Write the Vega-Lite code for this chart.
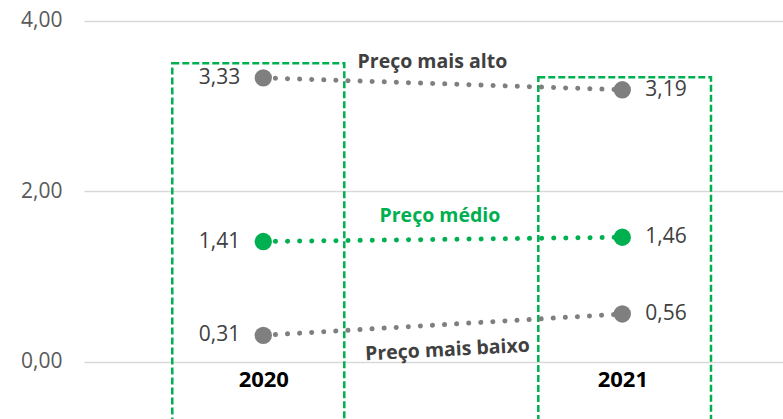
{
  "$schema": "https://vega.github.io/schema/vega-lite/v6.json",
  "width": 699,
  "height": 419,
  "autosize": {"type": "none"},
  "padding": {"left": 84, "top": 0, "right": 0, "bottom": 0},
  "background": "white",
  "config": {
    "view": {"stroke": null},
    "locale": {"number": {"decimal": ",", "thousands": ".", "grouping": [3], "currency": ["R$", ""]}},
    "font": "Open Sans"
  },
  "datasets": {
    "prices": [
      {"year": 2020, "series": "Preço mais alto", "value": 3.33},
      {"year": 2021, "series": "Preço mais alto", "value": 3.19},
      {"year": 2020, "series": "Preço médio", "value": 1.41},
      {"year": 2021, "series": "Preço médio", "value": 1.46},
      {"year": 2020, "series": "Preço mais baixo", "value": 0.31},
      {"year": 2021, "series": "Preço mais baixo", "value": 0.56}
    ],
    "boxes": [
      {"year": 2020, "x1": 2019.7465, "x2": 2020.2256, "top": 3.5, "bottom": -1},
      {"year": 2021, "x1": 2020.766, "x2": 2021.247, "top": 3.336, "bottom": -1}
    ],
    "labels": [
      {"series": "Preço mais alto", "x": 2020.471, "y": 3.516},
      {"series": "Preço médio", "x": 2020.492, "y": 1.709}
    ],
    "lowlabel": [
      {"series": "Preço mais baixo", "x": 2020.513, "y": 0.137}
    ]
  },
  "layer": [
    {
      "data": {"name": "boxes"},
      "mark": {"type": "rect", "fill": null, "fillOpacity": 0, "stroke": "#00b050", "strokeWidth": 2.5, "strokeDash": [7, 3], "clip": true},
      "encoding": {
        "x": {"field": "x1", "type": "quantitative", "scale": {"domain": [2019.5006, 2021.4476], "nice": false, "zero": false},
          "axis": {"values": [2020, 2021], "format": "d", "title": null, "domain": false, "ticks": false, "grid": false, "offset": -58, "labelPadding": 8, "labelFontSize": 22, "labelFontWeight": "bold", "labelColor": "#000000", "labelFont": "Open Sans"}},
        "x2": {"field": "x2"},
        "y": {"field": "top", "type": "quantitative", "scale": {"domain": [-0.672, 4.243], "nice": false, "zero": false},
          "axis": {"values": [0, 2, 4], "format": ".2f", "title": null, "domain": false, "ticks": false, "grid": true, "gridColor": "#d9d9d9", "gridWidth": 1.5, "labelPadding": 22, "labelFontSize": 21, "labelColor": "#595959", "labelFont": "Open Sans"}},
        "y2": {"field": "bottom"}
      }
    },
    {
      "data": {"name": "prices"},
      "mark": {"type": "line", "strokeWidth": 5, "strokeDash": [0.1, 12], "strokeCap": "round"},
      "encoding": {
        "x": {"field": "year", "type": "quantitative"},
        "y": {"field": "value", "type": "quantitative"},
        "detail": {"field": "series"},
        "color": {"field": "series", "type": "nominal", "scale": {"domain": ["Preço mais alto", "Preço médio", "Preço mais baixo"], "range": ["#7f7f7f", "#00b050", "#7f7f7f"]}, "legend": null}
      }
    },
    {
      "data": {"name": "prices"},
      "mark": {"type": "circle", "size": 300, "opacity": 1},
      "encoding": {
        "x": {"field": "year", "type": "quantitative"},
        "y": {"field": "value", "type": "quantitative"},
        "color": {"field": "series", "type": "nominal", "legend": null}
      }
    },
    {
      "data": {"name": "prices"},
      "transform": [{"filter": "datum.year == 2020"}],
      "mark": {"type": "text", "align": "right", "baseline": "middle", "dx": -23, "fontSize": 21, "color": "#404040"},
      "encoding": {
        "x": {"field": "year", "type": "quantitative"},
        "y": {"field": "value", "type": "quantitative"},
        "text": {"field": "value", "type": "quantitative", "format": ".2f"}
      }
    },
    {
      "data": {"name": "prices"},
      "transform": [{"filter": "datum.year == 2021"}],
      "mark": {"type": "text", "align": "left", "baseline": "middle", "dx": 23, "fontSize": 21, "color": "#404040"},
      "encoding": {
        "x": {"field": "year", "type": "quantitative"},
        "y": {"field": "value", "type": "quantitative"},
        "text": {"field": "value", "type": "quantitative", "format": ".2f"}
      }
    },
    {
      "data": {"name": "labels"},
      "mark": {"type": "text", "align": "center", "baseline": "middle", "fontSize": 19.5, "fontWeight": "bold"},
      "encoding": {
        "x": {"field": "x", "type": "quantitative"},
        "y": {"field": "y", "type": "quantitative"},
        "text": {"field": "series"},
        "color": {"condition": {"test": "datum.series == 'Preço médio'", "value": "#00b050"}, "value": "#404040"}
      }
    },
    {
      "data": {"name": "lowlabel"},
      "mark": {"type": "text", "align": "center", "baseline": "middle", "fontSize": 19.5, "fontWeight": "bold", "angle": 357, "color": "#404040"},
      "encoding": {
        "x": {"field": "x", "type": "quantitative"},
        "y": {"field": "y", "type": "quantitative"},
        "text": {"field": "series"}
      }
    }
  ]
}
